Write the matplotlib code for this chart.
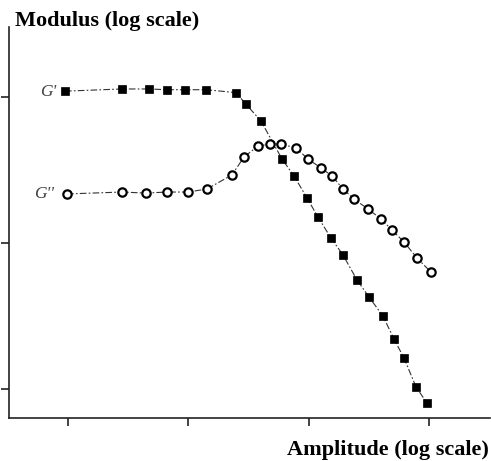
import matplotlib
matplotlib.use("Agg")
import matplotlib.pyplot as plt

# log10 amplitude / log10 modulus (decades)
gp_x = [-0.025, 0.449, 0.673, 0.823, 0.973, 1.147, 1.397, 1.48, 1.604, 1.779, 1.879,
        1.987, 2.078, 2.186, 2.286, 2.402, 2.502, 2.618, 2.71, 2.793, 2.893, 2.984]
gp_y = [2.04, 2.055, 2.055, 2.05, 2.05, 2.05, 2.03, 1.95, 1.836, 1.575, 1.459,
        1.308, 1.178, 1.034, 0.918, 0.747, 0.630, 0.5, 0.342, 0.212, 0.014, -0.096]

gpp_x = [-0.008, 0.449, 0.648, 0.823, 0.998, 1.155, 1.363, 1.463, 1.579, 1.679, 1.771, 1.895,
         1.995, 2.103, 2.195, 2.286, 2.377, 2.494, 2.602, 2.693, 2.793, 2.901, 3.017]
gpp_y = [1.336, 1.349, 1.342, 1.349, 1.349, 1.37, 1.466, 1.589, 1.664, 1.678, 1.678, 1.651,
         1.575, 1.514, 1.459, 1.37, 1.301, 1.233, 1.164, 1.089, 1.007, 0.897, 0.801]

x_ticks = [0, 1, 2, 3]
y_ticks = [0, 1, 2]

plt.rcParams['font.family'] = ['Liberation Serif', 'DejaVu Serif']

fig = plt.figure(figsize=(4.91, 4.61), dpi=100)
W, H = 491, 461
ax = fig.add_axes([9 / W, (H - 418) / H, (490 - 9) / W, (418 - 27) / H])

ls = (0, (6, 2, 1.5, 2))
ax.plot(gp_x, gp_y, linestyle=ls, color='#333333', lw=0.8,
        marker='s', markersize=6.3, markerfacecolor='black', markeredgecolor='black', markeredgewidth=0.5)
ax.plot(gpp_x, gpp_y, linestyle=ls, color='#333333', lw=0.8,
        marker='o', markersize=6, markerfacecolor='white', markeredgecolor='black', markeredgewidth=1.6)

ax.text(-0.1, gp_y[0] - 0.03, "G'", style='italic', fontsize=12.5, color='#444444',
        ha='right', va='baseline')
ax.text(-0.12, gpp_y[0] - 0.03, "G''", style='italic', fontsize=12.5, color='#444444',
        ha='right', va='baseline')

ax.set_xlim((9 - 68) / 120.3, (490 - 68) / 120.3)
ax.set_ylim((389 - 418) / 146, (389 - 27) / 146)
ax.set_xticks(x_ticks)
ax.set_yticks(y_ticks)
ax.set_xticklabels([])
ax.set_yticklabels([])
ax.tick_params(direction='out', length=6, width=1.2, color='#222222')
for s in ['top', 'right']:
    ax.spines[s].set_visible(False)
for s in ['left', 'bottom']:
    ax.spines[s].set_linewidth(1.2)
    ax.spines[s].set_color('#222222')

fig.text(15 / W, 1 - 26 / H, "Modulus (log scale)", fontsize=16, fontweight='bold',
         ha='left', va='baseline')
fig.text(489 / W, 1 - 455 / H, "Amplitude (log scale)", fontsize=16, fontweight='bold',
         ha='right', va='baseline')

fig.savefig("out.png", dpi=100)
